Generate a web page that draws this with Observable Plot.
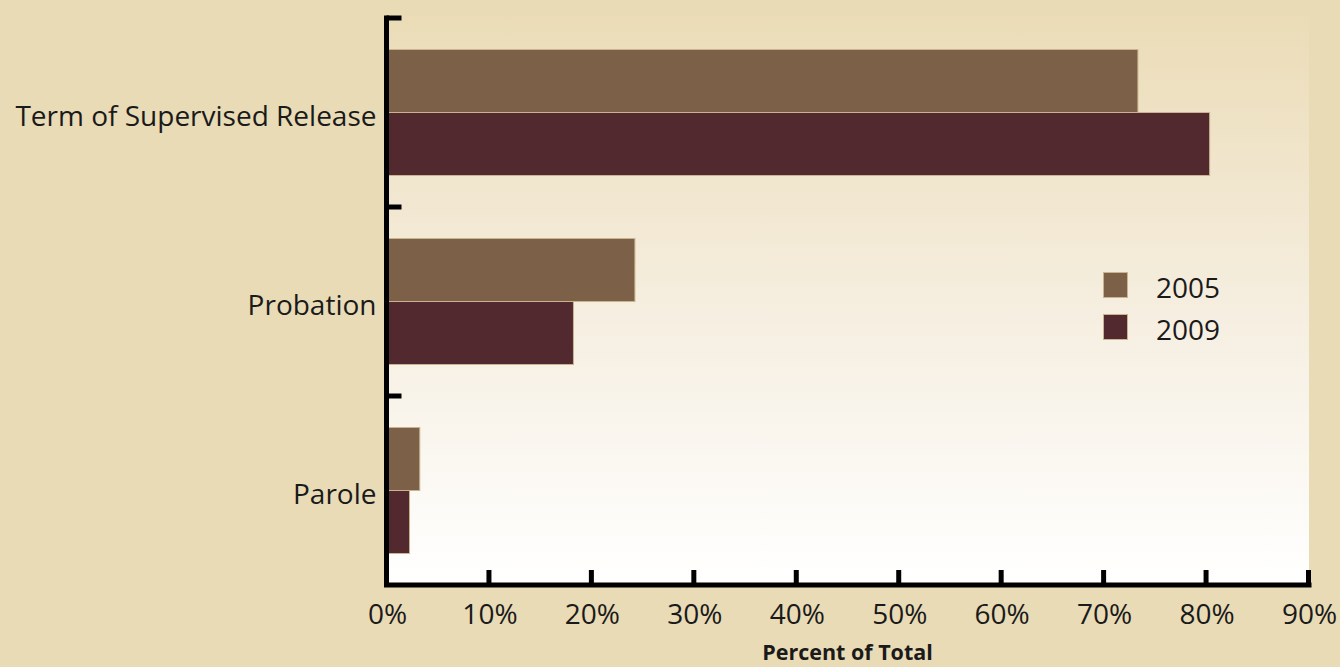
<!DOCTYPE html>
<html><head><meta charset="utf-8">
<script src="https://cdn.jsdelivr.net/npm/d3@7"></script>
<script src="https://cdn.jsdelivr.net/npm/@observablehq/plot@0.6"></script>
<style>
html,body{margin:0;padding:0;background:#e9dbb6;}
#wrap{position:relative;width:1340px;height:667px;overflow:hidden;font-family:"Open Sans",sans-serif;color:#1a1a1a;}
#legend{position:absolute;left:1103px;top:264px;}
.li{display:flex;align-items:center;height:42px;}
.sw{width:25px;height:26px;box-sizing:border-box;border:1px solid #c9b48f;margin-right:28px;}
.lt{font-size:28px;line-height:30px;position:relative;top:2px;}
#xlabel{position:absolute;left:0;width:1695px;text-align:center;top:637px;height:29px;font-size:21.5px;line-height:29px;font-weight:bold;}
</style></head><body><div id="wrap"></div>
<script>
const categories = ["Term of Supervised Release", "Probation", "Parole"];
const years = ["2005", "2009"];
const values2005 = [73.3, 24.2, 3.2];
const values2009 = [80.3, 18.2, 2.2];
const xTicks = [0, 10, 20, 30, 40, 50, 60, 70, 80, 90];
const colors = ["#7c6148", "#532930"];
const xLabel = "Percent of Total";

const data = categories.flatMap((c, i) => [
  {category: c, year: years[0], value: values2005[i]},
  {category: c, year: years[1], value: values2009[i]}
]);

const W = 1340, H = 667, mL = 387, mR = 31, mT = 16.5, mB = 81;
const plot = Plot.plot({
  width: W, height: H,
  marginLeft: mL, marginRight: mR, marginTop: mT, marginBottom: mB,
  style: {background: "transparent", fontFamily: "Open Sans", fontSize: "28px", color: "#1a1a1a", overflow: "visible"},
  x: {domain: [0, 90], ticks: xTicks, tickFormat: d => d + "%", tickSize: 0, tickPadding: 19, label: null},
  fy: {domain: categories, padding: 0, axis: null},
  y: {domain: years, paddingInner: 0, paddingOuter: 0.5, axis: null},
  color: {domain: years, range: colors},
  marks: [
    Plot.barX(data, {x: "value", y: "year", fy: "category", fill: "year", stroke: "#c9b48f", strokeWidth: 1}),
    Plot.axisFy({anchor: "left", tickSize: 0, tickPadding: 11, dy: 4, label: null, fontSize: 28})
  ]
});

const wrap = document.getElementById("wrap");
wrap.appendChild(plot);

// panel gradient and heavy axis lines, positioned via Plot's scales
const svg = d3.select(plot);
const xs = plot.scale("x"), fys = plot.scale("fy");
const x0 = xs.apply(xTicks[0]) - 0.5, x1 = xs.apply(xTicks[xTicks.length - 1]);
const yTop = fys.apply(categories[0]);
const yBot = fys.apply(categories[categories.length - 1]) + fys.bandwidth;

svg.insert("rect", ":first-child")
  .attr("x", x0).attr("y", yTop - 2).attr("width", x1 - x0).attr("height", yBot - yTop)
  .attr("fill", "url(#panelGrad)");
const defs = svg.insert("defs", ":first-child");
const grad = defs.append("linearGradient").attr("id", "panelGrad")
  .attr("x1", 0).attr("y1", 0).attr("x2", 0).attr("y2", 1);
grad.append("stop").attr("offset", "0%").attr("stop-color", "#ebdcb7");
grad.append("stop").attr("offset", "55%").attr("stop-color", "#f6efe2");
grad.append("stop").attr("offset", "100%").attr("stop-color", "#ffffff");

const ax = svg.append("g").attr("stroke", "#000").attr("stroke-width", 5).attr("fill", "none");
ax.append("path").attr("d", `M${x0},${yTop}V${yBot}H${x1}`).attr("stroke-linecap", "square").attr("stroke-linejoin", "miter");
categories.forEach(c => {
  const y = fys.apply(c);
  ax.append("path").attr("d", `M${x0},${y}H${x0 + 15}`).attr("stroke-linecap", "butt");
});
xTicks.slice(1).forEach(t => {
  const x = xs.apply(t) - 0.5;
  ax.append("path").attr("d", `M${x},${yBot}V${yBot - 15}`).attr("stroke-linecap", "butt");
});

// legend
const legend = document.createElement("div");
legend.id = "legend";
years.forEach((yr, i) => {
  const li = document.createElement("div"); li.className = "li";
  const sw = document.createElement("div"); sw.className = "sw"; sw.style.background = colors[i];
  const lt = document.createElement("div"); lt.className = "lt"; lt.textContent = yr;
  li.appendChild(sw); li.appendChild(lt); legend.appendChild(li);
});
wrap.appendChild(legend);

const xl = document.createElement("div");
xl.id = "xlabel"; xl.textContent = xLabel;
wrap.appendChild(xl);
</script>
</body></html>
